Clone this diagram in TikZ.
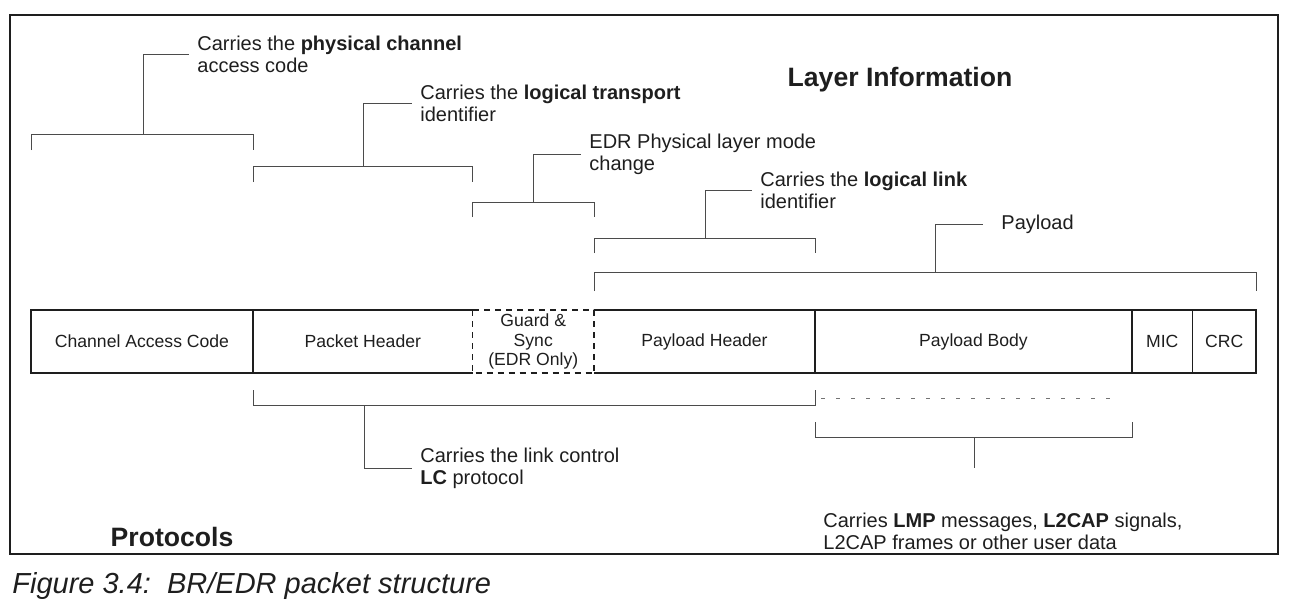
\documentclass[tikz,border=0pt]{standalone}
\usepackage{fontspec}
\setmainfont{Liberation Sans}
\usetikzlibrary{positioning}
\definecolor{inkdark}{RGB}{30,30,30}
\definecolor{linegray}{RGB}{75,75,75}
\definecolor{dotgray}{RGB}{115,115,115}
\tikzset{
  field/.style={
    minimum height=31.5pt, inner sep=0pt, outer sep=0pt,
    align=center, font=\fontsize{8.8}{9.6}\selectfont, text=inkdark
  },
  note/.style={
    anchor=west, align=left, inner xsep=4pt, inner ysep=0pt,
    font=\fontsize{10}{11}\selectfont, text=inkdark
  },
  heading/.style={font=\fontsize{13.3}{15}\selectfont\bfseries, text=inkdark},
  edge/.style={draw=inkdark, line width=0.7pt},
  brk/.style={draw=linegray, line width=0.5pt}
}

\begin{document}
\begin{tikzpicture}[x=0.5pt, y=-0.5pt, node distance=0pt]
  \useasboundingbox (0,0) rectangle (1294,612);
  \draw[inkdark, line width=1pt] (10,15) rectangle (1278,554);

  % packet fields
  \node[field, minimum width=111pt, anchor=north west] (cac) at (31,310) {Channel Access Code};
  \node[field, minimum width=109.75pt, right=of cac] (ph) {Packet Header};
  \node[field, minimum width=60.75pt, right=of ph] (gs) {Guard \&\\Sync\\(EDR Only)};
  \node[field, minimum width=110.5pt, right=of gs] (plh) {Payload Header};
  \node[field, minimum width=158.5pt, right=of plh] (pb) {Payload Body};
  \node[field, minimum width=30.25pt, right=of pb] (mic) {MIC};
  \node[field, minimum width=31.75pt, right=of mic] (crc) {CRC};

  \draw[edge] (ph.north east) -| (cac.south west) -- (ph.south east);
  \draw[edge] (cac.north east) -- (cac.south east);
  \draw[edge, dash pattern=on 3pt off 2.5pt] (gs.north west) rectangle (gs.south east);
  \draw[edge] (plh.north west) -- (crc.north east) -- (crc.south east) -- (plh.south west);
  \foreach \f in {pb, mic, crc}
    \draw[edge] (\f.north west) -- (\f.south west);

  % layer brackets
  \foreach \xa/\xb/\yb/\tk in {31/253/134/16, 253/472.5/166/16, 472.5/594/202/15, 594/815/238/15, 594/1256/272/19}
    \draw[brk] (\xa,\yb+\tk) |- (\xb,\yb) -- (\xb,\yb+\tk);

  \node[heading] (layer) at (900,80) {Layer Information};
  \node[note] (phys) at (189,54) {Carries the \textbf{physical channel}\\access code};
  \node[note] (ltid) at (412,103) {Carries the \textbf{logical transport}\\identifier};
  \node[note] (edr) at (581,154) {EDR Physical layer mode\\change};
  \node[note] (llid) at (752,190) {Carries the \textbf{logical link}\\identifier};
  \node[note] (pay) at (993,224) {Payload};

  \draw[brk] (143,134) |- (phys.west);
  \draw[brk] (363,166) |- (ltid.west);
  \draw[brk] (533,202) |- (edr.west);
  \draw[brk] (705,238) |- (llid.west);
  \draw[brk] (935,272) |- ([xshift=-5pt]pay.west);

  % protocol brackets
  \draw[brk] (253,390) |- (815,405) -- (815,390);
  \draw[dotgray, line width=0.5pt, dash pattern=on 2pt off 5.5pt] (821,398) -- (1120,398);
  \draw[brk] (815,422) |- (1132,437) -- (1132,422);

  \node[note] (lc) at (412,468) {Carries the link control\\\textbf{LC} protocol};
  \node[note] (lmp) at (815,531) {Carries \textbf{LMP} messages, \textbf{L2CAP} signals,\\L2CAP frames or other user data};
  \coordinate (lmptop) at (974,468);

  \draw[brk] (364,405) |- (lc.west);
  \draw[brk] (974,437) -- (lmptop);

  \node[heading] (proto) at (172,537) {Protocols};
  \node[anchor=west, inner sep=0pt, font=\fontsize{14.5}{16}\selectfont\itshape, text=inkdark] (cap) at (12,586) {Figure 3.4:\ \ BR/EDR packet structure};
\end{tikzpicture}
\end{document}
